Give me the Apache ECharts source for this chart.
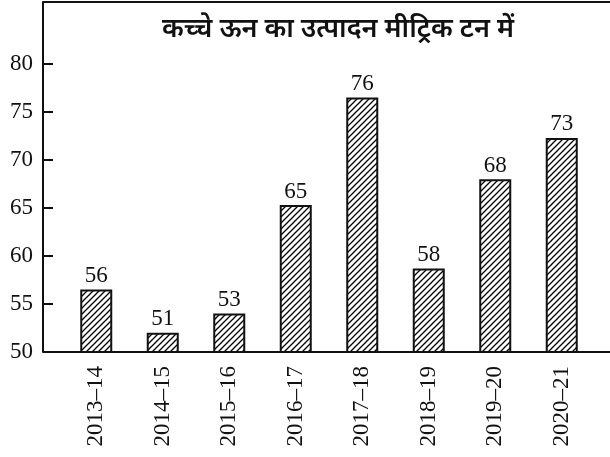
<!DOCTYPE html>
<html>
<head>
<meta charset="utf-8">
<script src="https://cdn.jsdelivr.net/npm/echarts@6/dist/echarts.min.js"></script>
<style>
html, body { margin: 0; padding: 0; background: #fff; }
#main { width: 610px; height: 457px; }
</style>
</head>
<body>
<div id="main"></div>
<script>
// data
var years = ['2013–14', '2014–15', '2015–16', '2016–17', '2017–18', '2018–19', '2019–20', '2020–21'];
var barHeights = [56.5, 52, 54, 65.3, 76.5, 58.7, 68, 72.3];
var valueLabels = ['56', '51', '53', '65', '76', '58', '68', '73'];
var yTicks = [50, 55, 60, 65, 70, 75, 80];
var chartTitle = 'कच्चे ऊन का उत्पादन मीट्रिक टन में';

// hatch pattern ///
function hatch() {
    var c = document.createElement('canvas')
    c.width = 6
    c.height = 6
    var ctx = c.getContext('2d')
    ctx.fillStyle = '#fff'
    ctx.fillRect(0, 0, 6, 6)
    ctx.strokeStyle = '#000'
    ctx.lineWidth = 1.3
    ctx.beginPath()
    ctx.moveTo(0, 6); ctx.lineTo(6, 0)
    ctx.moveTo(-1, 1); ctx.lineTo(1, -1)
    ctx.moveTo(5, 7); ctx.lineTo(7, 5)
    ctx.stroke()
    return c
}

var serif = '"Liberation Serif", "DejaVu Serif", serif'
var gridTop = 2, gridBottom = 352

var myChart = echarts.init(document.getElementById('main'))

myChart.setOption({
    animation: false,
    grid: {
        left: 63,
        right: 15,
        top: gridTop,
        bottom: 457 - gridBottom
    },
    xAxis: {
        type: 'category',
        data: years,
        axisLine: { show: false },
        axisTick: { show: false },
        axisLabel: {
            rotate: 90,
            margin: 14,
            color: '#111',
            fontFamily: serif,
            fontSize: 23
        }
    },
    yAxis: {
        type: 'value',
        min: 50,
        max: 50 + (gridBottom - gridTop) / 9.6,
        interval: 5,
        offset: 20,
        splitLine: { show: false },
        axisLine: { show: true, lineStyle: { color: '#111', width: 2 } },
        axisTick: {
            show: true,
            inside: true,
            length: 10,
            customValues: yTicks,
            lineStyle: { color: '#111', width: 2 }
        },
        axisLabel: {
            customValues: yTicks,
            margin: 10,
            color: '#111',
            fontFamily: serif,
            fontSize: 23
        }
    },
    graphic: [
        {
            type: 'line',
            shape: { x1: 43, y1: gridTop, x2: 610, y2: gridTop },
            style: { stroke: '#111', lineWidth: 2 }
        },
        {
            type: 'line',
            shape: { x1: 43, y1: gridBottom, x2: 610, y2: gridBottom },
            style: { stroke: '#111', lineWidth: 2 }
        },
        {
            type: 'text',
            x: 338,
            y: 32,
            style: {
                text: chartTitle,
                textAlign: 'center',
                textVerticalAlign: 'middle',
                font: '600 27px "Noto Sans Devanagari", "Lohit Devanagari", sans-serif',
                fill: '#111'
            }
        }
    ],
    series: [
        {
            type: 'bar',
            data: barHeights,
            barWidth: 32,
            itemStyle: {
                color: { image: hatch(), repeat: 'repeat' },
                borderColor: '#111',
                borderWidth: 2
            },
            label: {
                show: true,
                position: 'top',
                distance: 2,
                color: '#111',
                fontFamily: serif,
                fontSize: 23,
                formatter: function (p) { return valueLabels[p.dataIndex] }
            }
        }
    ]
})
</script>
</body>
</html>
